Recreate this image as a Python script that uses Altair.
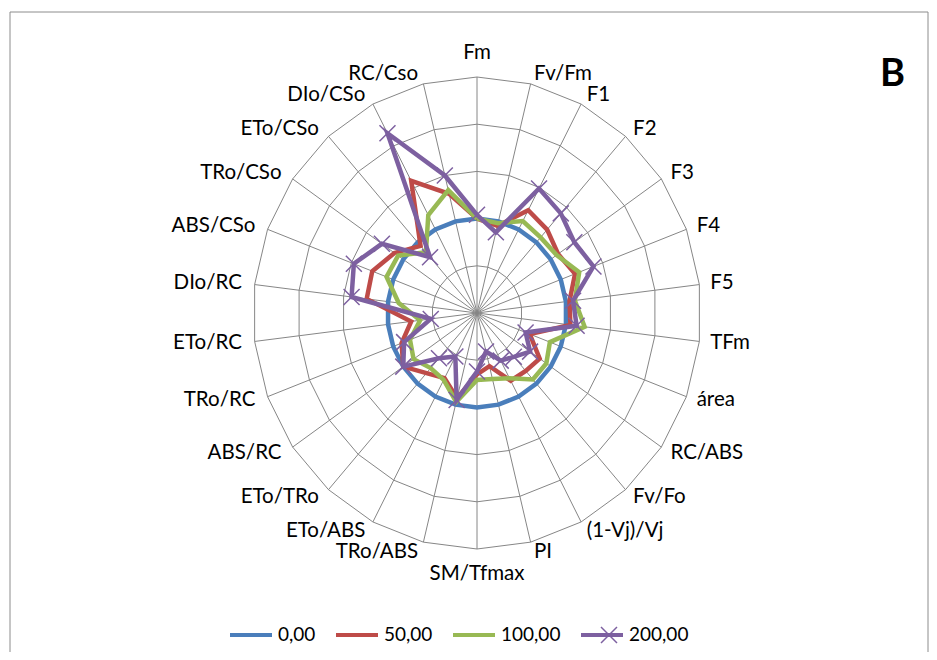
import altair as alt
import numpy as np
import pandas as pd

# ---------------- data ----------------
categories = ["Fm", "Fv/Fm", "F1", "F2", "F3", "F4", "F5", "TFm", "área", "RC/ABS",
              "Fv/Fo", "(1-Vj)/Vj", "PI", "SM/Tfmax", "TRo/ABS", "ETo/ABS", "ETo/TRo",
              "ABS/RC", "TRo/RC", "ETo/RC", "DIo/RC", "ABS/CSo", "TRo/CSo", "ETo/CSo",
              "DIo/CSo", "RC/Cso"]
series_names = ["0,00", "50,00", "100,00", "200,00"]
values_0 = [1.00, 1.00, 1.00, 1.00, 1.00, 1.00, 1.00, 1.00, 1.00, 1.00, 1.00, 1.00, 1.00,
            1.00, 1.00, 1.00, 1.00, 1.00, 1.00, 1.00, 1.00, 1.00, 1.00, 1.00, 1.00, 1.00]
values_50 = [1.00, 0.95, 1.23, 1.18, 1.10, 1.17, 1.04, 1.05, 0.63, 0.85, 0.82, 0.81, 0.58,
             0.65, 0.93, 0.78, 0.85, 1.00, 0.90, 0.74, 1.24, 1.25, 1.12, 0.95, 1.58, 1.30]
values_100 = [1.00, 0.98, 1.10, 1.07, 1.08, 1.22, 1.10, 1.21, 0.87, 0.94, 0.94, 0.78, 0.72,
              0.71, 0.97, 0.80, 0.78, 0.86, 0.80, 0.64, 0.88, 1.08, 1.07, 0.86, 1.17, 1.34]
values_200 = [1.04, 0.88, 1.49, 1.41, 1.32, 1.39, 1.08, 1.12, 0.58, 0.72, 0.62, 0.57, 0.42,
              0.62, 0.95, 0.52, 0.64, 1.00, 0.87, 0.52, 1.41, 1.47, 1.29, 0.79, 2.15, 1.50]
ring_levels = [0.5, 1.0, 1.5, 2.0, 2.5]
r_max = 2.5
colors = ["#4A7EBB", "#BE4B48", "#98B954", "#7D60A0"]
grid_color = "#868686"
FONT = "Lato"

n = len(categories)
angles = [2 * np.pi * i / n for i in range(n)]


def to_xy(r, i):
    return r * np.sin(angles[i]), r * np.cos(angles[i])


# series table (closed polygons)
rows = []
for s_i, (name, vals) in enumerate(zip(series_names, [values_0, values_50, values_100, values_200])):
    for k in range(n + 1):
        i = k % n
        x, y = to_xy(vals[i], i)
        rows.append(dict(series=name, idx=k, category=categories[i], value=vals[i], x=x, y=y,
                         marker=name))
df_series = pd.DataFrame(rows)

# grid rings
ring_rows = []
for lvl in ring_levels:
    for k in range(n + 1):
        x, y = to_xy(lvl, k % n)
        ring_rows.append(dict(level=lvl, idx=k, x=x, y=y))
df_rings = pd.DataFrame(ring_rows)

# spokes
spoke_rows = []
for i in range(n):
    x, y = to_xy(r_max, i)
    spoke_rows.append(dict(x0=0.0, y0=0.0, x1=x, y1=y))
df_spokes = pd.DataFrame(spoke_rows)

# category labels
r_lab = r_max + 0.11
lab_rows = []
for i, c in enumerate(categories):
    x, y = to_xy(r_lab, i)
    if i == 0:
        grp = "top"
    elif i == n // 2:
        grp = "bottom"
    elif i < n // 2:
        grp = "right"
    else:
        grp = "left"
    lab_rows.append(dict(label=c, x=x, y=y, grp=grp))
df_labels = pd.DataFrame(lab_rows)

# ---------------- chart ----------------
W, H = 448, 472
xs = alt.Scale(domain=[-r_max, r_max], nice=False, zero=False)
ys = alt.Scale(domain=[-r_max, r_max], nice=False, zero=False)
X = alt.X("x:Q", scale=xs, axis=None)
Y = alt.Y("y:Q", scale=ys, axis=None)

border = alt.Chart(pd.DataFrame({"k": [0]})).mark_rect(
    fillOpacity=0, stroke="#8c8c8c", strokeWidth=1
).encode(x=alt.value(-243), x2=alt.value(675), y=alt.value(-65), y2=alt.value(700))

rings = alt.Chart(df_rings).mark_line(color=grid_color, strokeWidth=1).encode(
    x=X, y=Y, detail="level:N", order="idx:Q")

spokes = alt.Chart(df_spokes).mark_rule(color=grid_color, strokeWidth=1).encode(
    x=alt.X("x0:Q", scale=xs, axis=None), y=alt.Y("y0:Q", scale=ys, axis=None),
    x2="x1:Q", y2="y1:Q")

color_legend = alt.Legend(
    title=None, orient="none", legendX=-25, legendY=535, direction="horizontal", columns=4,
    symbolType="stroke", symbolStrokeWidth=4, symbolSize=1764, labelFont=FONT,
    labelFontSize=19, labelColor="#000000", labelOffset=4, columnPadding=12, padding=0,
    symbolOpacity=1)
color_enc = alt.Color("series:N", scale=alt.Scale(domain=series_names, range=colors),
                      legend=color_legend)

line_layers = []
for name in series_names:
    line_layers.append(
        alt.Chart(df_series[df_series["series"] == name]).mark_line(
            strokeWidth=4.5, strokeJoin="miter").encode(x=X, y=Y, color=color_enc, order="idx:Q"))

xpath = "M-1,-1L1,1M-1,1L1,-1"
df_mark = df_series[(df_series["series"] == "200,00") & (df_series["idx"] < n)]
markers = alt.Chart(df_mark).mark_point(
    filled=False, strokeWidth=1.5, size=256, color=colors[3], opacity=1
).encode(
    x=X, y=Y,
    shape=alt.Shape("marker:N", scale=alt.Scale(domain=["200,00"], range=[xpath]),
                    legend=alt.Legend(title=None, orient="none", legendX=347, legendY=549,
                                      symbolStrokeColor=colors[3], symbolStrokeWidth=1.5,
                                      symbolSize=256, labelExpr="''", labelOpacity=0,
                                      labelFontSize=1, padding=0,
                                      symbolFillColor="transparent")))

label_layers = []
for grp, align, baseline, dx, dy in [("top", "center", "bottom", 0, -4),
                                     ("bottom", "center", "top", 0, 5),
                                     ("right", "left", "middle", 1, 0),
                                     ("left", "right", "middle", -3, 0)]:
    label_layers.append(
        alt.Chart(df_labels[df_labels["grp"] == grp]).mark_text(
            align=align, baseline=baseline, dx=dx, dy=dy, font=FONT, fontSize=20.5,
            color="#000000").encode(x=X, y=Y, text="label:N"))

panel_letter = alt.Chart(pd.DataFrame({"t": ["B"]})).mark_text(
    align="right", baseline="alphabetic", font=FONT, fontSize=38, fontWeight="bold",
    color="#000000").encode(x=alt.value(652), y=alt.value(9), text="t:N")

chart = alt.layer(border, rings, spokes, *line_layers, markers, *label_layers, panel_letter).properties(
    width=W, height=H,
    padding={"left": 245, "top": 69, "right": 228, "bottom": 103},
    autosize=alt.AutoSizeParams(type="none"),
    background="white",
).configure_view(stroke=None)

chart.save("out.html", embed_options={"renderer": "svg", "actions": False})
